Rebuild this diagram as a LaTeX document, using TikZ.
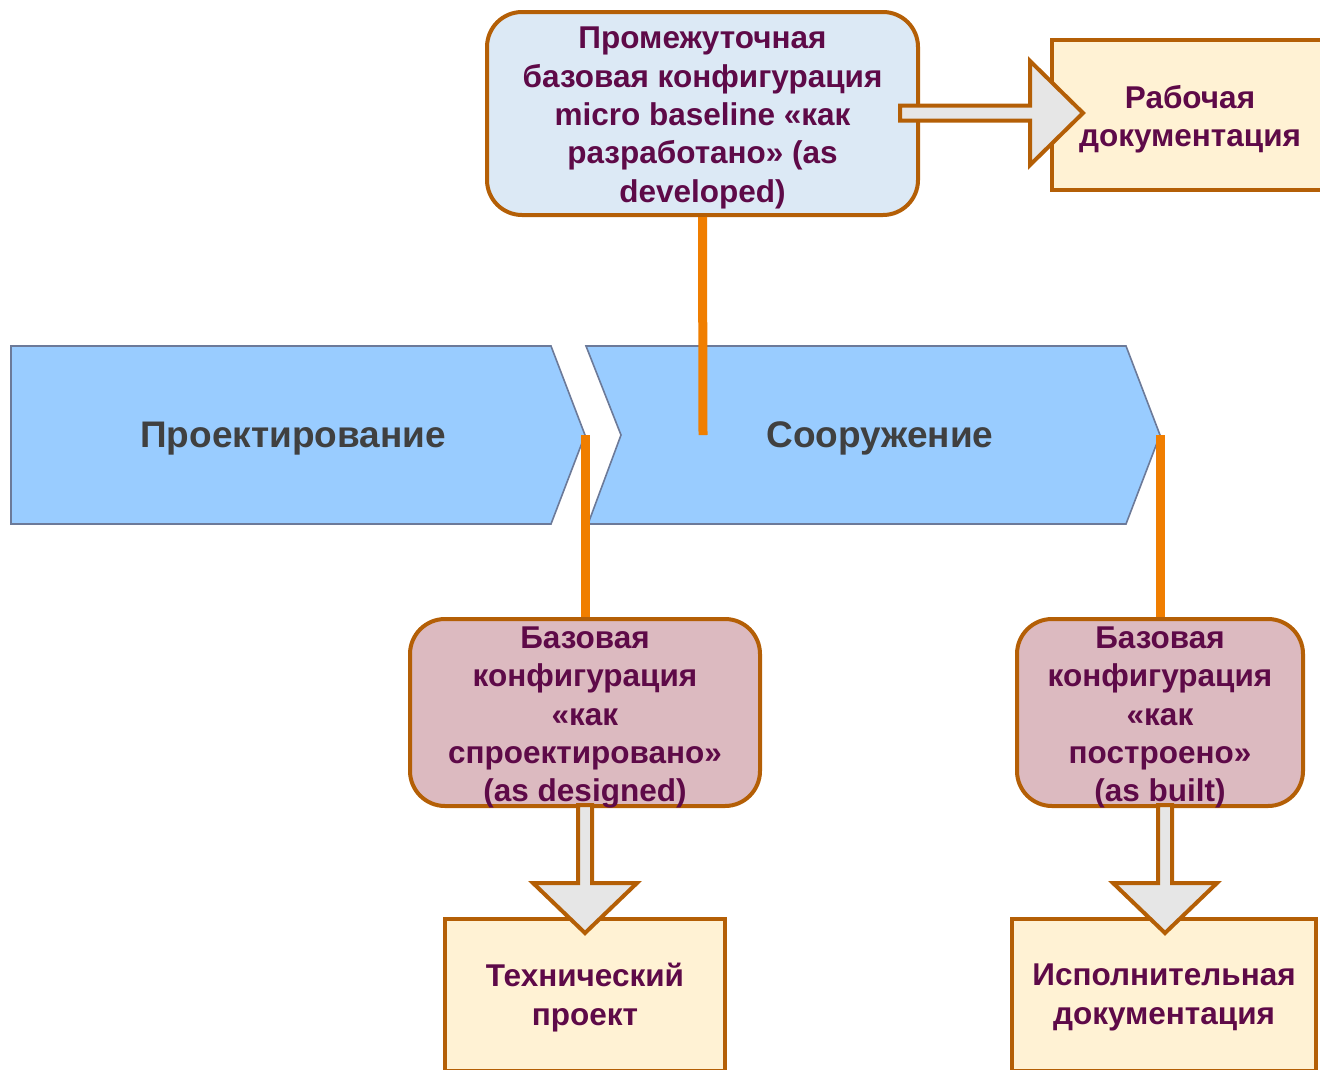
\documentclass[tikz,border=0pt]{standalone}
\usepackage{fontspec}
\setmainfont{Liberation Sans}
\usetikzlibrary{calc}
\definecolor{brd}{HTML}{B45F06}
\definecolor{topfill}{HTML}{DCE9F5}
\definecolor{cream}{HTML}{FFF2D4}
\definecolor{pinkfill}{HTML}{DCBAC0}
\definecolor{arrfill}{HTML}{E6E6E6}
\definecolor{chevfill}{HTML}{99CCFF}
\definecolor{chevbrd}{HTML}{6C7A99}
\definecolor{orline}{HTML}{F07E00}
\definecolor{txt}{HTML}{5E0A48}
\definecolor{chevtxt}{HTML}{404040}
\tikzset{
  boxtext/.style={font=\bfseries\fontsize{31.5}{38.4}\selectfont, text=txt, align=center, inner sep=0pt},
  roundbox/.style={draw=brd, line width=4pt, rounded corners=35pt, inner sep=0pt},
  docbox/.style={draw=brd, fill=cream, line width=4pt, inner sep=0pt},
  chevron/.style={fill=chevfill, draw=chevbrd, line width=1.6pt},
  chevlabel/.style={font=\bfseries\fontsize{37}{44}\selectfont, text=chevtxt},
  orangelink/.style={draw=orline, line width=9pt},
  blockarrow/.style={fill=arrfill, draw=brd, line width=4pt, miter limit=10}
}
\begin{document}
\begin{tikzpicture}[x=1pt,y=-1pt]
\useasboundingbox (0,0) rectangle (1320,1069);
% chevrons
\draw[chevron] (11,346) -- (551,346) -- (585,435) -- (551,524) -- (11,524) -- cycle;
\draw[chevron] (586,346) -- (1126,346) -- (1160,435) -- (1126,524) -- (588,524) -- (621,435) -- cycle;
\node[chevlabel] (design) at (293,439) {Проектирование};
\node[chevlabel] (build) at (880,438) {Сооружение};
\coordinate (c2mid) at (703,435);
\coordinate (c1tip) at (585,435);
\coordinate (c2tip) at (1160,435);
% boxes
\node[roundbox, fill=topfill, minimum width=431pt, minimum height=203pt,
  label={[boxtext, yshift=-4.5pt]center:{Промежуточная\\базовая конфигурация\\micro baseline «как\\разработано» (as\\developed)}}] (top) at (702.5,113.5) {};
\node[roundbox, fill=pinkfill, minimum width=350pt, minimum height=187pt,
  label={[boxtext, yshift=-5pt]center:{Базовая\\конфигурация\\«как\\спроектировано»\\(as designed)}}] (pink1) at (585,712.5) {};
\node[roundbox, fill=pinkfill, minimum width=286pt, minimum height=187pt,
  label={[boxtext, yshift=-5pt]center:{Базовая\\конфигурация\\«как\\построено»\\(as built)}}] (pink2) at (1160,712.5) {};
\node[docbox, minimum width=276pt, minimum height=150pt,
  label={[boxtext, yshift=-4pt]center:{Рабочая\\документация}}] (rab) at (1190,115) {};
\node[docbox, minimum width=280pt, minimum height=152pt,
  label={[boxtext, yshift=-2.5pt]center:{Технический\\проект}}] (tech) at (585,995) {};
\node[docbox, minimum width=304pt, minimum height=152pt,
  label={[boxtext, yshift=-2.5pt]center:{Исполнительная\\документация}}] (isp) at (1164,995) {};
% block arrows
\draw[blockarrow] (900,105.5) -- (1030,105.5) -- (1030,61) -- (1083,113) -- (1030,165) -- (1030,120.5) -- (900,120.5) -- cycle;
\draw[blockarrow] (578,805) -- (578,883) -- (533,883) -- (585,933) -- (637,883) -- (592,883) -- (592,805) -- cycle;
\draw[blockarrow] (1158,805) -- (1158,883) -- (1113,883) -- (1165,933) -- (1217,883) -- (1172,883) -- (1172,805) -- cycle;
% orange links
\path[orangelink] (top.south) -- (c2mid);
\path[orangelink] (c1tip) -- (pink1.north);
\path[orangelink] (c2tip) -- (pink2.north);
\end{tikzpicture}
\end{document}
